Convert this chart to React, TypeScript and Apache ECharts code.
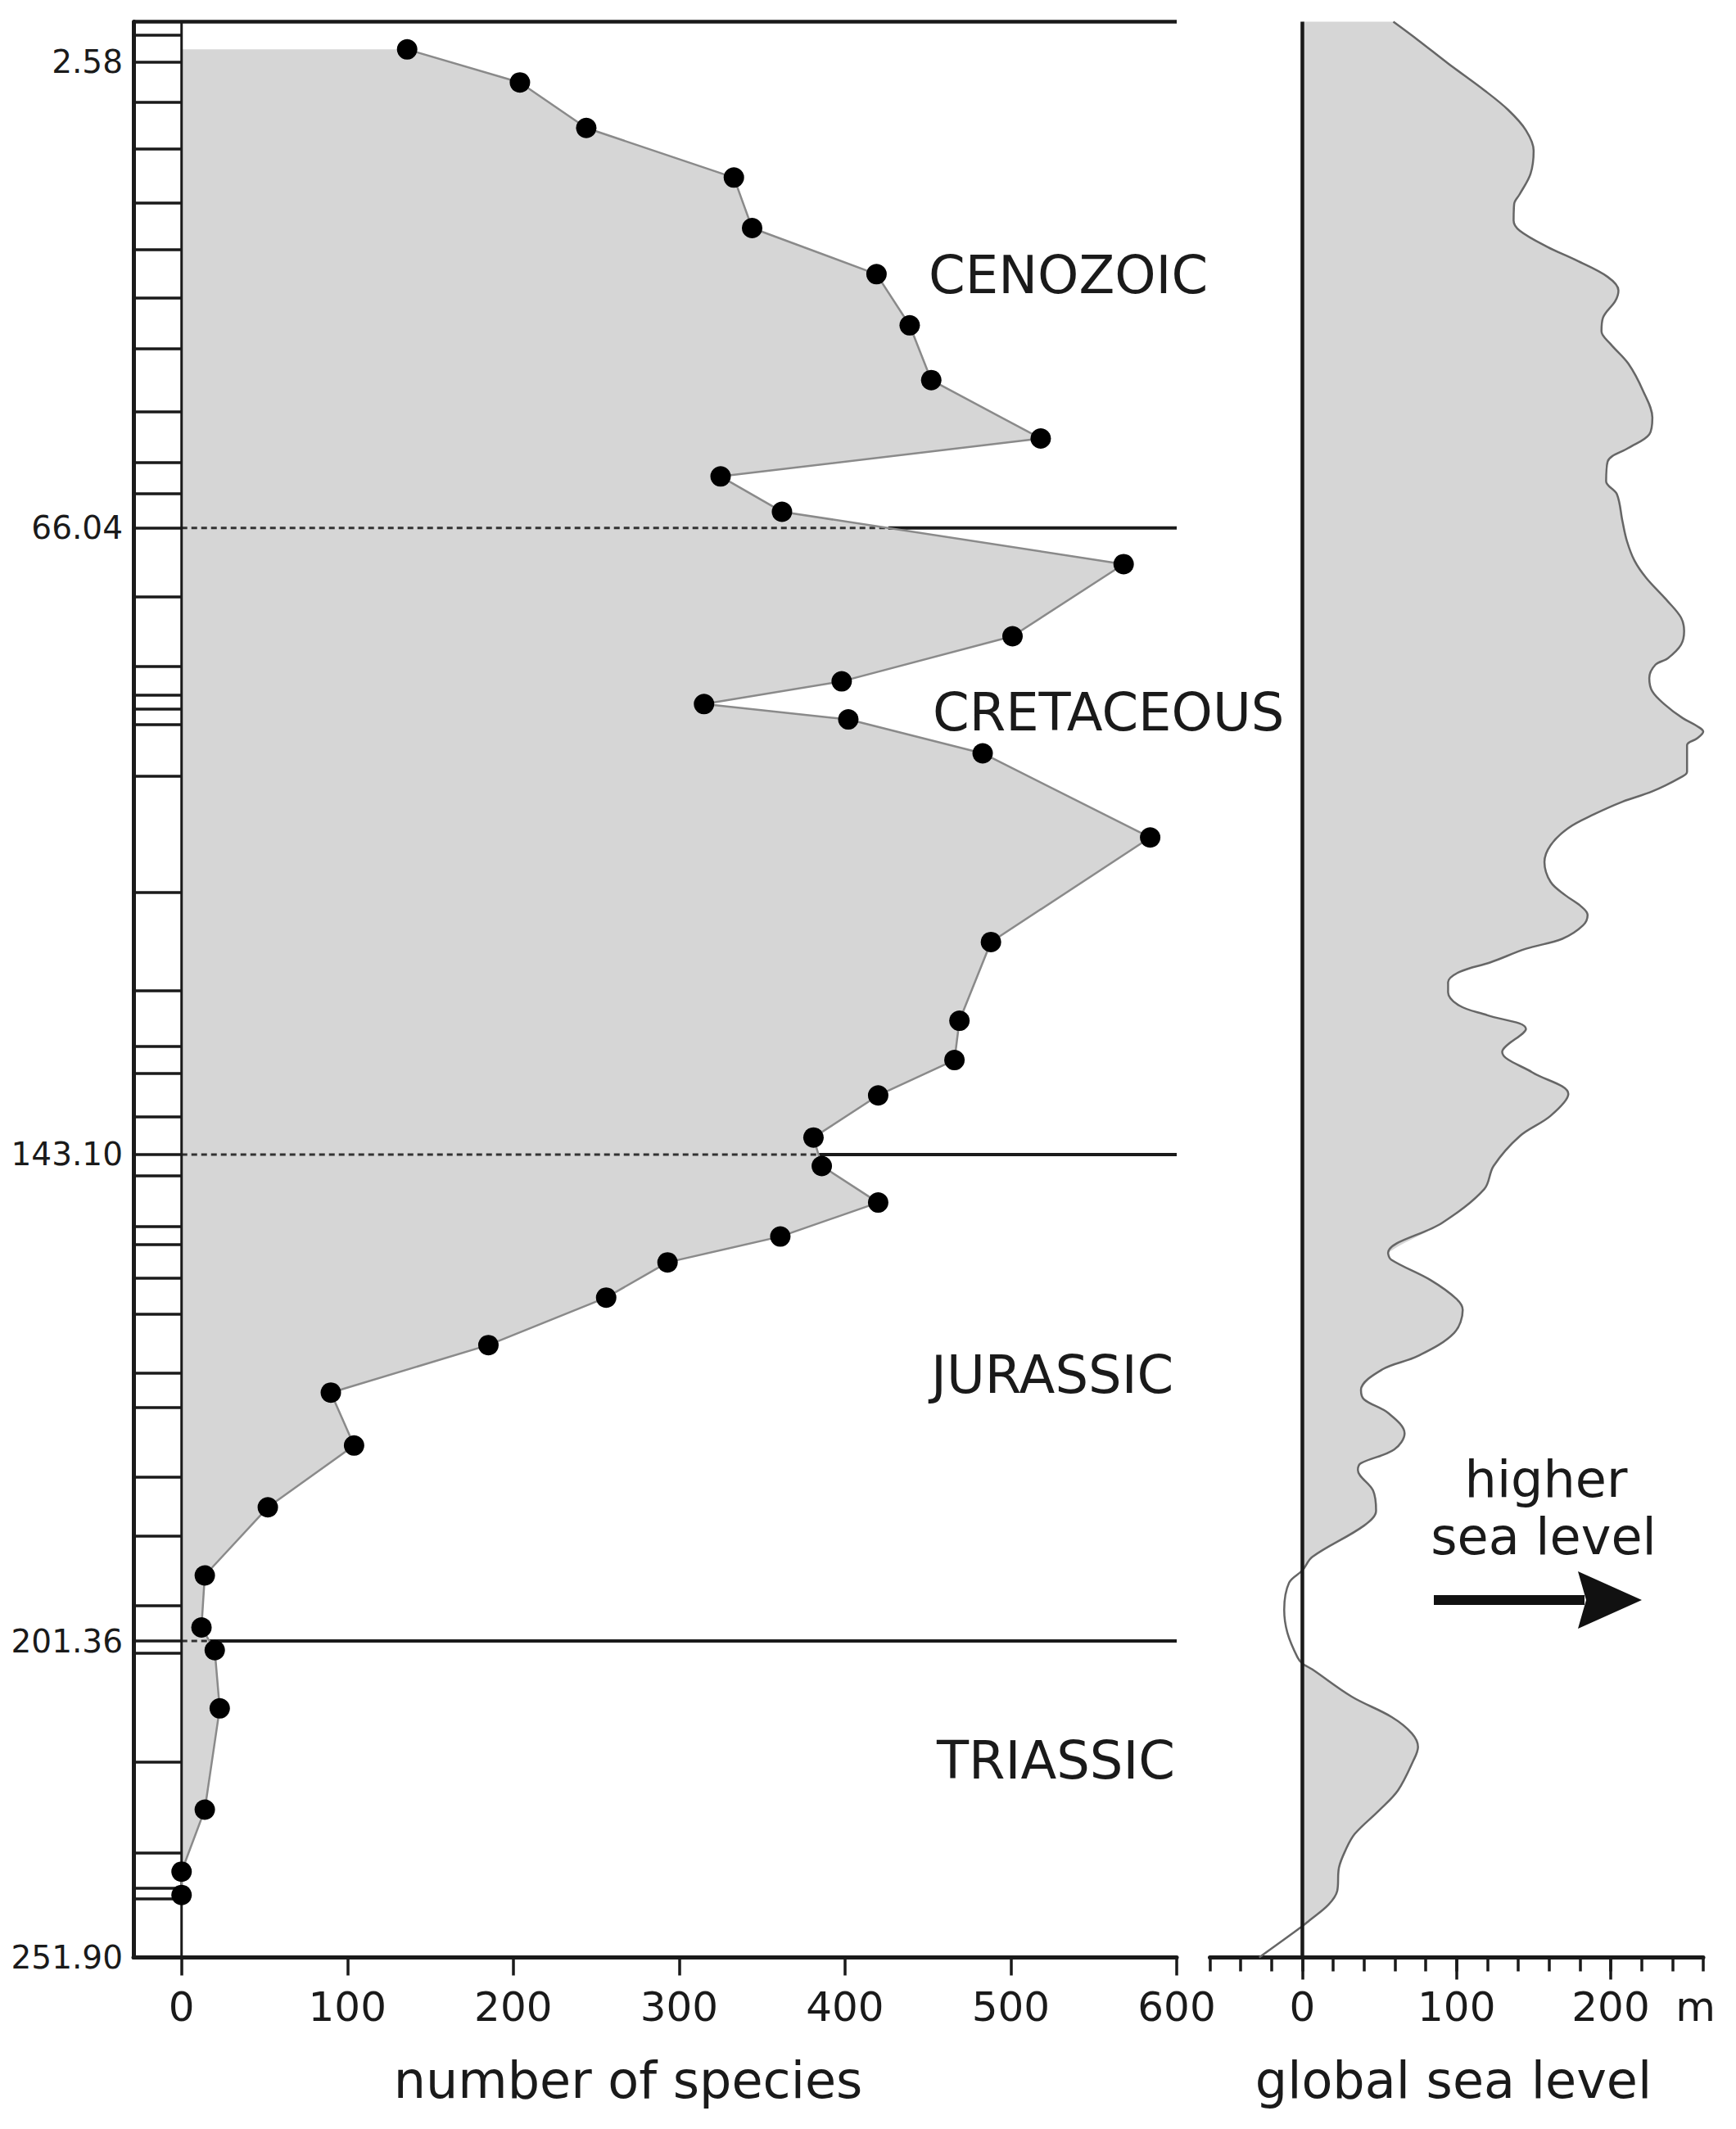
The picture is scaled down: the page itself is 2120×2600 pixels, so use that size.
import React, { useEffect, useRef } from 'react';
import * as echarts from 'echarts';

// Non-linear time column of the figure: ages (Ma) and their place on the drawn scale
const AGE_ANCHORS = [0, 2.58, 66.04, 143.1, 201.36, 251.9];
const SCALE_ANCHORS = [0, 5.26, 65.89, 147.42, 210.72, 251.9];

// Labelled ages on the left axis
const LABEL_AGES = [2.58, 66.04, 143.1, 201.36, 251.9];
const AGE_LABELS = ['2.58', '66.04', '143.10', '201.36', '251.90'];

// Period boundaries drawn across the species panel
const PERIOD_BOUNDARIES = [66.04, 143.1, 201.36];

// Stage boundaries of the stratigraphic column (Ma)
const STAGE_BOUNDARIES = [
  0.83, 2.58, 8.05, 14.43, 21.76, 28.14, 34.7, 41.63, 50.14, 57.11, 61.34, 66.04,
  74.52, 83.07, 86.57, 88.33, 90.2, 96.59, 110.88, 122.93, 129.81, 133.1, 138.49, 143.1,
  145.6, 151.73, 153.89, 157.88, 162.23, 169.24, 173.34, 181.69, 188.76, 197.14, 201.36,
  203.25, 220.64, 235.18, 240.84, 242.55,
];

// Number of species per time bin
const SPECIES_AGE = [
  1.77, 5.35, 11.55, 18.3, 25.18, 31.46, 38.43, 45.89, 53.84, 59.01, 63.82,
  70.48, 79.35, 84.9, 87.69, 89.58, 93.75, 104.1, 116.96, 126.64, 131.48, 135.82, 141.0,
  144.47, 148.85, 152.92, 156.01, 160.23, 165.92, 171.61, 177.95, 185.35, 193.51, 199.74,
  202.83, 212.12, 228.3, 238.19, 241.92,
];
const SPECIES_COUNT = [
  136, 204, 244, 333, 344, 419, 439, 452, 518, 325, 362,
  568, 501, 398, 315, 402, 483, 584, 488, 469, 466, 420, 381,
  386, 420, 361, 293, 256, 185, 90, 104, 52, 14, 12,
  20, 23, 14, 0, 0,
];

// Global sea level curve (m) against age (Ma)
const SEA_AGE = [
  0, 1.17, 2.76, 6.41, 9.09, 11.86, 14.64, 17.78, 20.55, 21.85, 24.16, 25.55, 27.76, 29.61,
  31.83, 33.68, 35.09, 37.38, 39.23, 41.0, 43.67, 47.37, 51.03, 53.28, 55.13, 56.98, 59.66,
  61.42, 65.12, 67.64, 70.05, 72.17, 75.05, 77.06, 78.73, 80.4, 82.07, 82.85, 84.5, 86.14,
  87.74, 89.41, 90.41, 91.08, 91.92, 92.75, 96.01, 96.59, 98.43, 99.7, 101.35, 102.93,
  105.05, 107.11, 109.56, 111.21, 112.45, 113.62, 114.92, 116.56, 117.79, 119.46, 120.63,
  121.9, 123.13, 124.8, 125.97, 127.64, 130.48, 132.98, 135.65, 138.33, 140.83, 144.47,
  147.23, 151.29, 154.87, 155.68, 158.12, 160.4, 161.7, 164.46, 167.22, 168.85, 171.29,
  172.42, 174.05, 176.49, 178.44, 180.07, 180.88, 183.32, 185.76, 187.54, 191.28, 192.9,
  194.37, 197.62, 200.38, 203.96, 204.94, 205.91, 210.25, 213.51, 216.11, 218.28, 220.45,
  225.22, 228.47, 232.16, 234.76, 237.58, 241.27, 243.44, 246.04, 246.91, 251.9,
];
const SEA_LEVEL = [
  59, 75, 94.5, 118, 133.5, 145, 150, 148, 141, 137.4, 137, 141, 159, 178,
  198, 205, 203, 195, 194, 200, 211.5, 221, 227, 225, 211.5, 198, 197,
  204, 207.6, 210.5, 215.4, 223, 237, 245.6, 247.6, 245.6, 237, 229, 225, 227,
  235, 246.6, 256, 260, 256, 249.5, 249.5, 246.6, 227, 207.6, 188, 172.5,
  161, 157, 161, 170.6, 180, 185, 182, 168.6, 145, 122, 102,
  94.5, 94.5, 102, 120, 145, 129.6, 149, 172.5, 161, 141, 124,
  118, 90.6, 55.6, 57.5, 83, 100, 104, 98.4, 75, 51.7, 38,
  40, 55.6, 66.3, 59.5, 38, 36, 45.8, 47.8, 40, 6.5, 0,
  -8.6, -11.8, -9.7, -3.2, 0, 6.5, 32, 58, 71, 75, 72,
  62, 49.5, 34, 28, 23.7, 22.6, 17, 4.3, 0, -28,
];

const SPECIES_TICKS = [0, 100, 200, 300, 400, 500, 600];
const SEA_MAJOR_TICKS = [0, 100, 200];
const SEA_LABELS = ['0', '100', '200', 'm'];
const SEA_LABEL_VALUES = [0, 100, 200, 255];

const PERIODS = ['CENOZOIC', 'CRETACEOUS', 'JURASSIC', 'TRIASSIC'];

const FONT = "'DejaVu Sans', Verdana, sans-serif";
const INK = '#1a1a1a';
const FILL = '#d6d6d6';
const SMOOTH = 0.35;

function warp(age: number): number {
  const n = AGE_ANCHORS.length;
  for (let i = 0; i < n - 1; i++) {
    if (age <= AGE_ANCHORS[i + 1] || i === n - 2) {
      const a0 = AGE_ANCHORS[i];
      const a1 = AGE_ANCHORS[i + 1];
      const s0 = SCALE_ANCHORS[i];
      const s1 = SCALE_ANCHORS[i + 1];
      return s0 + ((age - a0) / (a1 - a0)) * (s1 - s0);
    }
  }
  return age;
}

export default function App() {
  const ref = useRef<HTMLDivElement>(null);

  useEffect(() => {
    document.body.style.margin = '0';
    if (!ref.current) return;
    const chart = echarts.init(ref.current, undefined, { renderer: 'svg' });

    const speciesPts = SPECIES_AGE.map((a, i) => [SPECIES_COUNT[i], warp(a)]);
    const seaPts = SEA_AGE.map((a, i) => [SEA_LEVEL[i], warp(a)]);
    const yMax = AGE_ANCHORS[AGE_ANCHORS.length - 1];

    const edgeAt = (w: number): number => {
      for (let i = 0; i < speciesPts.length - 1; i++) {
        const [x0, y0] = speciesPts[i];
        const [x1, y1] = speciesPts[i + 1];
        if ((y0 - w) * (y1 - w) <= 0 && y0 !== y1) {
          return x0 + ((w - y0) / (y1 - y0)) * (x1 - x0);
        }
      }
      return 0;
    };

    const option: any = {
      animation: false,
      backgroundColor: '#ffffff',
      grid: [
        { left: 163, top: 26.5, width: 1274, height: 2364, outerBoundsMode: 'none' },
        { left: 1477.5, top: 26.5, width: 602.5, height: 2364, outerBoundsMode: 'none' },
      ],
      xAxis: [
        {
          gridIndex: 0,
          type: 'value',
          min: -29,
          max: 600,
          position: 'bottom',
          axisLine: { show: true, onZero: false, lineStyle: { color: INK, width: 5 } },
          axisTick: { show: true, customValues: SPECIES_TICKS, length: 22, lineStyle: { color: INK, width: 3.5 } },
          axisLabel: {
            show: true,
            customValues: SPECIES_TICKS,
            fontSize: 50,
            fontFamily: FONT,
            color: INK,
            margin: 35,
          },
          splitLine: { show: false },
        },
        {
          gridIndex: 1,
          type: 'value',
          min: -60,
          max: 260,
          interval: 20,
          position: 'bottom',
          axisLine: { show: true, onZero: false, lineStyle: { color: INK, width: 5 } },
          axisTick: { show: true, length: 17, lineStyle: { color: INK, width: 3.5 } },
          axisLabel: {
            show: true,
            customValues: SEA_LABEL_VALUES,
            formatter: (v: number) => {
              const i = SEA_LABEL_VALUES.indexOf(v);
              return i >= 0 ? SEA_LABELS[i] : '';
            },
            fontSize: 50,
            fontFamily: FONT,
            color: INK,
            margin: 35,
          },
          splitLine: { show: false },
        },
        {
          gridIndex: 1,
          type: 'value',
          min: -60,
          max: 260,
          position: 'bottom',
          axisLine: { show: false, onZero: false },
          axisTick: { show: true, customValues: SEA_MAJOR_TICKS, length: 27, lineStyle: { color: INK, width: 3.5 } },
          axisLabel: { show: false },
          splitLine: { show: false },
        },
      ],
      yAxis: [
        {
          gridIndex: 0,
          type: 'value',
          inverse: true,
          min: 0,
          max: yMax,
          axisLine: { show: true, onZero: false, lineStyle: { color: INK, width: 5 } },
          axisTick: {
            show: true,
            inside: true,
            length: 59,
            customValues: STAGE_BOUNDARIES.map(warp),
            lineStyle: { color: INK, width: 3.5 },
          },
          axisLabel: {
            show: true,
            customValues: LABEL_AGES.map(warp),
            formatter: (v: number) => {
              const i = LABEL_AGES.findIndex((a) => Math.abs(warp(a) - v) < 1e-3);
              return i >= 0 ? AGE_LABELS[i] : '';
            },
            fontSize: 39,
            fontFamily: FONT,
            color: INK,
            margin: 13,
          },
          splitLine: { show: false },
        },
        {
          gridIndex: 1,
          type: 'value',
          inverse: true,
          min: 0,
          max: yMax,
          show: false,
          splitLine: { show: false },
        },
      ],
      series: [
        {
          type: 'custom',
          name: 'species area',
          xAxisIndex: 0,
          yAxisIndex: 0,
          z: 1,
          silent: true,
          data: [[0, 0]],
          renderItem: (_p: any, api: any) => {
            const pts = [
              [0, speciesPts[0][1]],
              ...speciesPts,
              [0, speciesPts[speciesPts.length - 1][1]],
            ].map((p) => api.coord(p));
            return { type: 'polygon', shape: { points: pts }, style: { fill: FILL } };
          },
        },
        {
          type: 'custom',
          name: 'period boundaries',
          xAxisIndex: 0,
          yAxisIndex: 0,
          z: 2,
          silent: true,
          data: PERIOD_BOUNDARIES.map((a) => [0, warp(a)]),
          renderItem: (_p: any, api: any) => {
            const w = api.value(1);
            const e = edgeAt(w);
            const a = api.coord([0, w]);
            const b = api.coord([e, w]);
            const c = api.coord([600, w]);
            return {
              type: 'group',
              children: [
                {
                  type: 'line',
                  shape: { x1: a[0], y1: a[1], x2: b[0], y2: b[1] },
                  style: { stroke: '#333', lineWidth: 3, lineDash: [7, 5] },
                },
                {
                  type: 'line',
                  shape: { x1: b[0], y1: b[1], x2: c[0], y2: c[1] },
                  style: { stroke: INK, lineWidth: 4 },
                },
              ],
            };
          },
        },
        {
          type: 'custom',
          name: 'frame',
          xAxisIndex: 0,
          yAxisIndex: 0,
          z: 3,
          silent: true,
          data: [[0, 0]],
          renderItem: (_p: any, api: any) => {
            const tl = api.coord([-29, 0]);
            const tr = api.coord([600, 0]);
            const it = api.coord([0, 0]);
            const ib = api.coord([0, yMax]);
            return {
              type: 'group',
              children: [
                { type: 'line', shape: { x1: tl[0], y1: tl[1], x2: tr[0], y2: tr[1] }, style: { stroke: INK, lineWidth: 4.5 } },
                { type: 'line', shape: { x1: it[0], y1: it[1], x2: ib[0], y2: ib[1] }, style: { stroke: INK, lineWidth: 3 } },
              ],
            };
          },
        },
        {
          type: 'line',
          name: 'number of species',
          xAxisIndex: 0,
          yAxisIndex: 0,
          z: 5,
          data: speciesPts,
          symbol: 'circle',
          symbolSize: 25,
          showSymbol: true,
          itemStyle: { color: '#000' },
          lineStyle: { color: '#8a8a8a', width: 2.5 },
        },
        {
          type: 'custom',
          name: 'sea level area',
          xAxisIndex: 1,
          yAxisIndex: 1,
          z: 1,
          silent: true,
          data: [[0, 0]],
          renderItem: (_p: any, api: any) => {
            const first = seaPts[0];
            const last = seaPts[seaPts.length - 1];
            const body = seaPts.map(([m, w]) => [Math.max(0, m), w]);
            const lastClamped = body[body.length - 1];
            const pts = [
              [0, first[1]],
              [0, first[1]],
              body[0],
              ...body,
              lastClamped,
              [0, last[1]],
              [0, last[1]],
            ].map((p) => api.coord(p));
            return { type: 'polygon', shape: { points: pts, smooth: SMOOTH }, style: { fill: FILL, stroke: 'none' } };
          },
        },
        {
          type: 'line',
          name: 'global sea level',
          xAxisIndex: 1,
          yAxisIndex: 1,
          z: 4,
          data: seaPts,
          smooth: SMOOTH,
          showSymbol: false,
          symbol: 'none',
          lineStyle: { color: '#666666', width: 2.5 },
        },
        {
          type: 'custom',
          name: 'sea zero',
          xAxisIndex: 1,
          yAxisIndex: 1,
          z: 5,
          silent: true,
          data: [[0, 0]],
          renderItem: (_p: any, api: any) => {
            const t = api.coord([0, 0]);
            const b = api.coord([0, yMax]);
            return { type: 'line', shape: { x1: t[0], y1: t[1], x2: b[0], y2: b[1] }, style: { stroke: INK, lineWidth: 4.5 } };
          },
        },
      ],
      graphic: [
        { type: 'text', x: 1134, y: 336, style: { text: PERIODS[0], fontSize: 64, fontFamily: FONT, fill: INK, align: 'left', verticalAlign: 'middle' } },
        { type: 'text', x: 1139, y: 870, style: { text: PERIODS[1], fontSize: 64, fontFamily: FONT, fill: INK, align: 'left', verticalAlign: 'middle' } },
        { type: 'text', x: 1137, y: 1679, style: { text: PERIODS[2], fontSize: 64, fontFamily: FONT, fill: INK, align: 'left', verticalAlign: 'middle' } },
        { type: 'text', x: 1144, y: 2150, style: { text: PERIODS[3], fontSize: 64, fontFamily: FONT, fill: INK, align: 'left', verticalAlign: 'middle' } },
        { type: 'text', x: 767, y: 2540, style: { text: 'number of species', fontSize: 62, fontFamily: FONT, fill: INK, align: 'center', verticalAlign: 'middle' } },
        { type: 'text', x: 1775, y: 2540, style: { text: 'global sea level', fontSize: 62, fontFamily: FONT, fill: INK, align: 'center', verticalAlign: 'middle' } },
        { type: 'text', x: 1888, y: 1806, style: { text: 'higher', fontSize: 62, fontFamily: FONT, fill: INK, align: 'center', verticalAlign: 'middle' } },
        { type: 'text', x: 1885, y: 1876, style: { text: 'sea level', fontSize: 62, fontFamily: FONT, fill: INK, align: 'center', verticalAlign: 'middle' } },
        { type: 'line', shape: { x1: 1751, y1: 1954, x2: 1935, y2: 1954 }, style: { stroke: '#111', lineWidth: 12 } },
        { type: 'polygon', shape: { points: [[1927, 1919], [2005, 1954], [1927, 1989], [1937, 1954]] }, style: { fill: '#111' } },
      ],
    };

    chart.setOption(option);
    return () => chart.dispose();
  }, []);

  return <div ref={ref} style={{ width: 2120, height: 2600 }} />;
}
